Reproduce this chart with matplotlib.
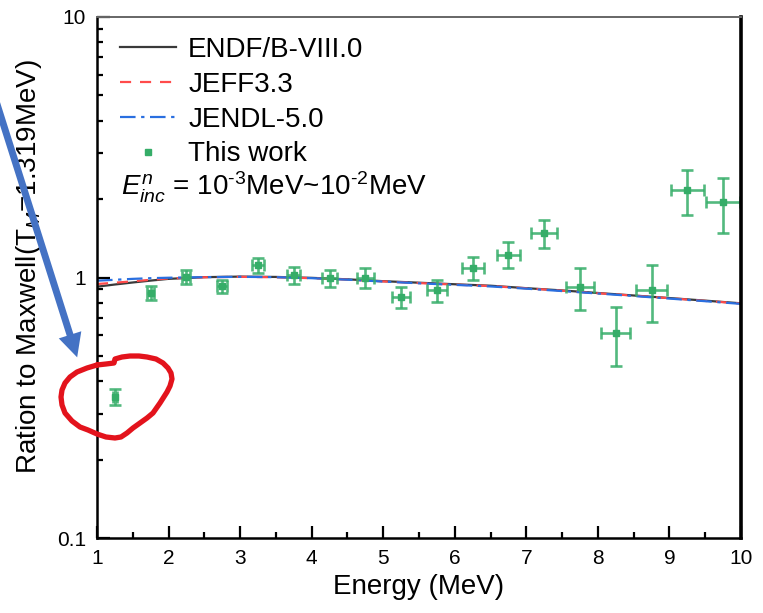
import numpy as np
import matplotlib
matplotlib.use("Agg")
from matplotlib import pyplot as plt
from matplotlib.patches import FancyArrowPatch
from matplotlib.ticker import FixedLocator, FuncFormatter

plt.rcParams['font.family'] = ['Liberation Sans', 'DejaVu Sans']
plt.rcParams['mathtext.fontset'] = 'custom'
plt.rcParams['mathtext.rm'] = 'Liberation Sans'
plt.rcParams['mathtext.it'] = 'Liberation Sans:italic'

# evaluated libraries, ratio to Maxwell
E_eval = [1.0, 1.25, 1.5, 1.75, 2.0, 2.5, 3.0, 3.5, 4.0, 4.5, 5.0, 5.5,
          6.0, 6.5, 7.0, 7.5, 8.0, 8.5, 9.0, 9.5, 10.0]
endf = [0.922, 0.940, 0.957, 0.973, 0.988, 1.003, 1.008, 1.005, 0.997, 0.984, 0.968,
        0.955, 0.942, 0.930, 0.910, 0.892, 0.872, 0.853, 0.834, 0.815, 0.796]
jeff = [0.944, 0.955, 0.967, 0.980, 0.992, 1.002, 1.006, 1.002, 0.994, 0.982, 0.966,
        0.952, 0.939, 0.927, 0.909, 0.890, 0.870, 0.852, 0.833, 0.813, 0.795]
jendl = [0.972, 0.980, 0.988, 0.994, 0.998, 1.003, 1.006, 1.003, 0.994, 0.981, 0.965,
         0.950, 0.937, 0.924, 0.906, 0.887, 0.868, 0.849, 0.830, 0.811, 0.792]

# this work
E_exp = [1.25, 1.75, 2.25, 2.75, 3.25, 3.75, 4.25, 4.75, 5.25,
         5.75, 6.25, 6.75, 7.25, 7.75, 8.25, 8.75, 9.25, 9.75]
ratio = [0.349, 0.873, 1.006, 0.926, 1.115, 1.018, 0.997, 1.000, 0.843,
         0.894, 1.089, 1.225, 1.484, 0.918, 0.613, 0.894, 2.163, 1.953]
ratio_err = [0.025, 0.053, 0.060, 0.055, 0.070, 0.075, 0.075, 0.085, 0.078,
             0.088, 0.112, 0.140, 0.185, 0.165, 0.155, 0.222, 0.420, 0.465]
E_err = [0.03, 0.045, 0.056, 0.07, 0.08, 0.093, 0.10, 0.116, 0.13,
         0.14, 0.154, 0.163, 0.18, 0.19, 0.20, 0.22, 0.233, 0.238]

W, H = 763, 613
fig = plt.figure(figsize=(W / 100, H / 100), dpi=100)
ax = fig.add_axes([97 / W, 1 - 538 / H, (741 - 97) / W, (538 - 17) / H])

green = '#35ad68'
ax.plot(E_eval, endf, color='#3a3a3a', lw=1.6, label='ENDF/B-VIII.0')
ax.plot(E_eval, jeff, color='#ff4b4b', lw=1.6, ls=(0, (5, 4)), label='JEFF3.3')
ax.plot(E_eval, jendl, color='#2a6fe0', lw=1.6, ls=(0, (7, 2.5, 1.5, 2.5)), label='JENDL-5.0')
ax.errorbar(E_exp, ratio, yerr=ratio_err, xerr=E_err, fmt='none', ecolor=green,
            elinewidth=1.9, capsize=4, capthick=1.9, alpha=0.85)
ax.plot(E_exp, ratio, ls='none', marker='s', ms=5, color=green, label='This work')

ax.set_yscale('log')
ax.set_xlim(1, 10)
ax.set_ylim(0.1, 10)

ax.xaxis.set_major_locator(FixedLocator(range(1, 11)))
ax.xaxis.set_minor_locator(FixedLocator(np.arange(1.5, 10, 1.0)))
ax.yaxis.set_major_locator(FixedLocator([0.1, 1, 10]))
ax.yaxis.set_major_formatter(FuncFormatter(lambda v, p: '%g' % v))
ax.tick_params(which='both', direction='in', top=False, right=False, labelsize=15,
               width=1.6, colors='black')
ax.tick_params(which='major', length=9, pad=8)
ax.tick_params(which='minor', length=4.5)

for s in ['left', 'bottom']:
    ax.spines[s].set_linewidth(1.8)
ax.spines['right'].set_linewidth(2.6)
ax.spines['top'].set_linewidth(1.4)
ax.spines['top'].set_color('#666666')

ax.set_xlabel('Energy (MeV)', fontsize=20, labelpad=4)
ax.set_ylabel('Ration to Maxwell(T$_M$=1.319MeV)', fontsize=20)
ax.yaxis.set_label_coords(-0.083, 0.52)

ax.legend(loc='upper left', bbox_to_anchor=(0.036, 0.962), frameon=False, fontsize=20,
          handlelength=2.0, handletextpad=0.45, labelspacing=0.32,
          borderpad=0, borderaxespad=0, markerscale=1.0)
ax.text(0.037, 0.657, r'$E^{n}_{inc}$ = 10$^{\text{-3}}$MeV~10$^{\text{-2}}$MeV',
        transform=ax.transAxes, fontsize=20, va='baseline', ha='left')

# overlay annotation in pixel coordinates
ov = fig.add_axes([0, 0, 1, 1], facecolor='none')
ov.set_xlim(0, W)
ov.set_ylim(H, 0)
ov.axis('off')

loop_x = [97, 106, 114, 115, 122, 130, 139, 147, 156, 163, 168, 171, 172, 170, 167,
          160, 153, 147, 140, 133, 127, 121, 115, 106, 97, 88, 80, 72, 65, 62, 61,
          62, 65, 70, 77, 87, 97]
loop_y = [365, 364, 363, 359, 357, 356, 356, 357, 359, 363, 368, 373, 379, 386, 392,
          403, 413, 418, 423, 428, 433, 437, 438, 437, 434, 430, 427, 421, 413, 405, 397,
          390, 383, 377, 372, 368, 365]
ov.plot(loop_x, loop_y, color='#e3131c', lw=3.8, solid_joinstyle='round',
        solid_capstyle='round')

arrow = FancyArrowPatch((-10, 82), (78, 360),
                        arrowstyle='simple,head_length=17,head_width=17,tail_width=5',
                        mutation_scale=1, color='#4472c4', lw=0)
ov.add_patch(arrow)

fig.savefig('out.png', dpi=100)
